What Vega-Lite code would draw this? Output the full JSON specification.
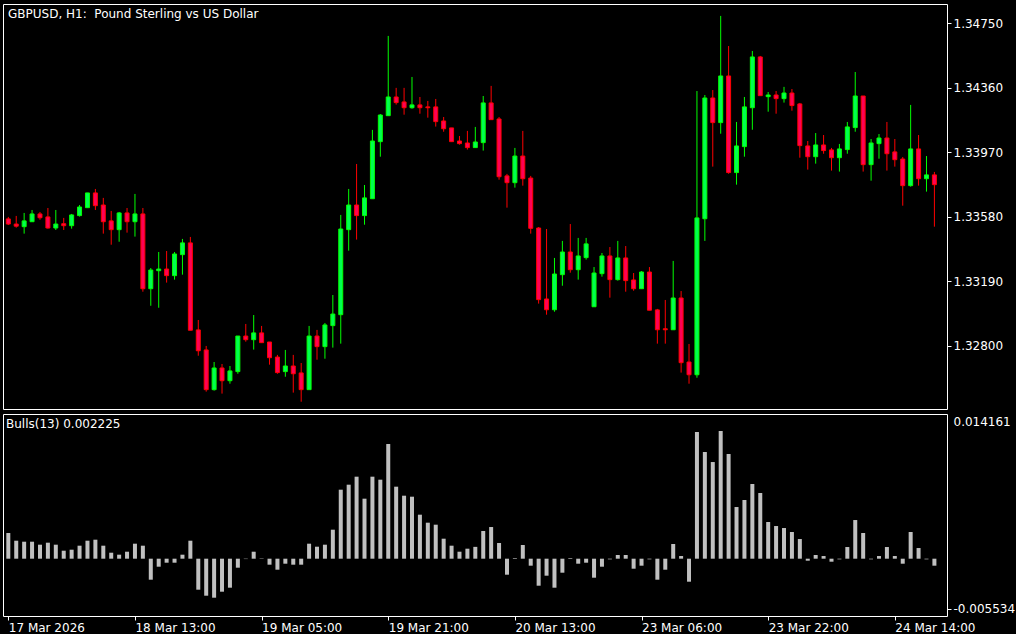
{
  "$schema": "https://vega.github.io/schema/vega-lite/v6.json",
  "background": "#000000",
  "padding": {"left": 2, "top": 3, "right": 0, "bottom": 0},
  "spacing": 3,
  "config": {
    "font": "DejaVu Sans",
    "view": {"stroke": "#FFFFFF", "strokeWidth": 1, "fill": "#000000"},
    "axis": {"grid": false, "domain": false, "labelColor": "#FFFFFF", "tickColor": "#FFFFFF", "labelFont": "DejaVu Sans", "labelFontSize": 12, "tickSize": 4, "title": null, "labelOverlap": false, "labelFlush": false}
  },
  "datasets": {
    "d": [
      {"i":0,"o":1.33568,"h":1.33580,"l":1.33531,"c":1.33537,"b":0.002847},
      {"i":1,"o":1.33537,"h":1.33586,"l":1.33515,"c":1.33524,"b":0.001996},
      {"i":2,"o":1.33521,"h":1.33604,"l":1.33479,"c":1.33556,"b":0.001885},
      {"i":3,"o":1.33551,"h":1.33622,"l":1.33551,"c":1.33598,"b":0.001885},
      {"i":4,"o":1.33598,"h":1.33610,"l":1.33563,"c":1.33575,"b":0.001553},
      {"i":5,"o":1.33580,"h":1.33634,"l":1.33509,"c":1.33513,"b":0.001775},
      {"i":6,"o":1.33513,"h":1.33622,"l":1.33501,"c":1.33537,"b":0.001553},
      {"i":7,"o":1.33539,"h":1.33574,"l":1.33501,"c":1.33527,"b":0.000887},
      {"i":8,"o":1.33527,"h":1.33598,"l":1.33509,"c":1.33592,"b":0.000998},
      {"i":9,"o":1.33588,"h":1.33652,"l":1.33582,"c":1.33640,"b":0.001442},
      {"i":10,"o":1.33636,"h":1.33725,"l":1.33636,"c":1.33725,"b":0.001996},
      {"i":11,"o":1.33725,"h":1.33749,"l":1.33622,"c":1.33648,"b":0.002107},
      {"i":12,"o":1.33652,"h":1.33695,"l":1.33479,"c":1.33551,"b":0.001442},
      {"i":13,"o":1.33556,"h":1.33616,"l":1.33412,"c":1.33503,"b":0.000665},
      {"i":14,"o":1.33503,"h":1.33610,"l":1.33430,"c":1.33604,"b":0.000444},
      {"i":15,"o":1.33604,"h":1.33634,"l":1.33485,"c":1.33551,"b":0.000776},
      {"i":16,"o":1.33551,"h":1.33719,"l":1.33461,"c":1.33598,"b":0.001664},
      {"i":17,"o":1.33598,"h":1.33634,"l":1.33128,"c":1.33146,"b":0.001442},
      {"i":18,"o":1.33146,"h":1.33271,"l":1.33043,"c":1.33259,"b":-0.002329},
      {"i":19,"o":1.33255,"h":1.33368,"l":1.33031,"c":1.33265,"b":-0.000887},
      {"i":20,"o":1.33265,"h":1.33374,"l":1.33183,"c":1.33225,"b":-0.000444},
      {"i":21,"o":1.33225,"h":1.33368,"l":1.33201,"c":1.33356,"b":-0.000444},
      {"i":22,"o":1.33352,"h":1.33447,"l":1.33231,"c":1.33423,"b":0.000444},
      {"i":23,"o":1.33423,"h":1.33459,"l":1.32895,"c":1.32895,"b":0.001996},
      {"i":24,"o":1.32897,"h":1.32957,"l":1.32741,"c":1.32771,"b":-0.003438},
      {"i":25,"o":1.32776,"h":1.32800,"l":1.32524,"c":1.32536,"b":-0.004104},
      {"i":26,"o":1.32536,"h":1.32703,"l":1.32530,"c":1.32667,"b":-0.004325},
      {"i":27,"o":1.32667,"h":1.32691,"l":1.32512,"c":1.32590,"b":-0.003660},
      {"i":28,"o":1.32590,"h":1.32679,"l":1.32572,"c":1.32649,"b":-0.003216},
      {"i":29,"o":1.32645,"h":1.32860,"l":1.32632,"c":1.32860,"b":-0.000998},
      {"i":30,"o":1.32860,"h":1.32933,"l":1.32826,"c":1.32838,"b":-0.000040},
      {"i":31,"o":1.32838,"h":1.32987,"l":1.32778,"c":1.32879,"b":0.000776},
      {"i":32,"o":1.32879,"h":1.32921,"l":1.32820,"c":1.32820,"b":0.000040},
      {"i":33,"o":1.32824,"h":1.32824,"l":1.32687,"c":1.32729,"b":-0.000665},
      {"i":34,"o":1.32733,"h":1.32746,"l":1.32632,"c":1.32639,"b":-0.001220},
      {"i":35,"o":1.32645,"h":1.32776,"l":1.32614,"c":1.32679,"b":-0.000555},
      {"i":36,"o":1.32679,"h":1.32746,"l":1.32518,"c":1.32632,"b":-0.000665},
      {"i":37,"o":1.32637,"h":1.32697,"l":1.32463,"c":1.32536,"b":-0.000665},
      {"i":38,"o":1.32536,"h":1.32921,"l":1.32536,"c":1.32860,"b":0.001664},
      {"i":39,"o":1.32860,"h":1.32897,"l":1.32717,"c":1.32796,"b":0.001331},
      {"i":40,"o":1.32796,"h":1.32939,"l":1.32723,"c":1.32927,"b":0.001553},
      {"i":41,"o":1.32923,"h":1.33108,"l":1.32790,"c":1.32993,"b":0.003216},
      {"i":42,"o":1.32989,"h":1.33592,"l":1.32814,"c":1.33507,"b":0.007653},
      {"i":43,"o":1.33503,"h":1.33749,"l":1.33376,"c":1.33652,"b":0.008207},
      {"i":44,"o":1.33652,"h":1.33900,"l":1.33443,"c":1.33588,"b":0.009095},
      {"i":45,"o":1.33588,"h":1.33773,"l":1.33533,"c":1.33695,"b":0.006655},
      {"i":46,"o":1.33690,"h":1.34106,"l":1.33690,"c":1.34039,"b":0.009095},
      {"i":47,"o":1.34035,"h":1.34202,"l":1.33944,"c":1.34196,"b":0.008762},
      {"i":48,"o":1.34192,"h":1.34674,"l":1.34192,"c":1.34305,"b":0.012718},
      {"i":49,"o":1.34305,"h":1.34360,"l":1.34259,"c":1.34271,"b":0.007986},
      {"i":50,"o":1.34275,"h":1.34360,"l":1.34198,"c":1.34240,"b":0.006987},
      {"i":51,"o":1.34240,"h":1.34426,"l":1.34234,"c":1.34257,"b":0.006876},
      {"i":52,"o":1.34257,"h":1.34305,"l":1.34204,"c":1.34240,"b":0.004880},
      {"i":53,"o":1.34245,"h":1.34281,"l":1.34180,"c":1.34240,"b":0.003993},
      {"i":54,"o":1.34245,"h":1.34293,"l":1.34126,"c":1.34156,"b":0.003771},
      {"i":55,"o":1.34160,"h":1.34184,"l":1.34095,"c":1.34113,"b":0.002218},
      {"i":56,"o":1.34118,"h":1.34118,"l":1.34035,"c":1.34035,"b":0.001442},
      {"i":57,"o":1.34039,"h":1.34069,"l":1.34017,"c":1.34023,"b":0.000776},
      {"i":58,"o":1.34027,"h":1.34100,"l":1.33987,"c":1.33999,"b":0.001109},
      {"i":59,"o":1.33999,"h":1.34124,"l":1.33999,"c":1.34033,"b":0.001312},
      {"i":60,"o":1.34029,"h":1.34311,"l":1.33981,"c":1.34269,"b":0.003069},
      {"i":61,"o":1.34269,"h":1.34372,"l":1.34168,"c":1.34168,"b":0.003512},
      {"i":62,"o":1.34172,"h":1.34184,"l":1.33805,"c":1.33823,"b":0.001738},
      {"i":63,"o":1.33828,"h":1.33840,"l":1.33636,"c":1.33787,"b":-0.001775},
      {"i":64,"o":1.33787,"h":1.33997,"l":1.33757,"c":1.33948,"b":0.000070},
      {"i":65,"o":1.33948,"h":1.34100,"l":1.33769,"c":1.33811,"b":0.001516},
      {"i":66,"o":1.33815,"h":1.33828,"l":1.33479,"c":1.33511,"b":-0.000776},
      {"i":67,"o":1.33513,"h":1.33519,"l":1.33056,"c":1.33080,"b":-0.002995},
      {"i":68,"o":1.33084,"h":1.33507,"l":1.32989,"c":1.33019,"b":-0.001885},
      {"i":69,"o":1.33019,"h":1.33332,"l":1.33007,"c":1.33235,"b":-0.003216},
      {"i":70,"o":1.33231,"h":1.33435,"l":1.33164,"c":1.33368,"b":-0.001553},
      {"i":71,"o":1.33368,"h":1.33537,"l":1.33243,"c":1.33261,"b":0.000070},
      {"i":72,"o":1.33261,"h":1.33453,"l":1.33201,"c":1.33344,"b":-0.000555},
      {"i":73,"o":1.33334,"h":1.33453,"l":1.33322,"c":1.33417,"b":-0.000444},
      {"i":74,"o":1.33037,"h":1.33277,"l":1.33037,"c":1.33241,"b":-0.002107},
      {"i":75,"o":1.33237,"h":1.33362,"l":1.33219,"c":1.33344,"b":-0.000887},
      {"i":76,"o":1.33344,"h":1.33398,"l":1.33092,"c":1.33201,"b":-0.000070},
      {"i":77,"o":1.33201,"h":1.33435,"l":1.33195,"c":1.33332,"b":0.000407},
      {"i":78,"o":1.33332,"h":1.33404,"l":1.33128,"c":1.33195,"b":0.000407},
      {"i":79,"o":1.33199,"h":1.33241,"l":1.33134,"c":1.33146,"b":-0.001109},
      {"i":80,"o":1.33146,"h":1.33253,"l":1.33146,"c":1.33247,"b":-0.000776},
      {"i":81,"o":1.33247,"h":1.33277,"l":1.33016,"c":1.33016,"b":-0.000070},
      {"i":82,"o":1.33018,"h":1.33024,"l":1.32814,"c":1.32898,"b":-0.002329},
      {"i":83,"o":1.32904,"h":1.33078,"l":1.32814,"c":1.32898,"b":-0.001220},
      {"i":84,"o":1.32898,"h":1.33314,"l":1.32898,"c":1.33090,"b":0.001627},
      {"i":85,"o":1.33090,"h":1.33132,"l":1.32639,"c":1.32699,"b":0.000296},
      {"i":86,"o":1.32703,"h":1.32812,"l":1.32572,"c":1.32626,"b":-0.002551},
      {"i":87,"o":1.32626,"h":1.34341,"l":1.32608,"c":1.33574,"b":0.014049},
      {"i":88,"o":1.33569,"h":1.34317,"l":1.33435,"c":1.34299,"b":0.011830},
      {"i":89,"o":1.34299,"h":1.34347,"l":1.33884,"c":1.34150,"b":0.010720},
      {"i":90,"o":1.34150,"h":1.34795,"l":1.34083,"c":1.34432,"b":0.014161},
      {"i":91,"o":1.34432,"h":1.34613,"l":1.33841,"c":1.33848,"b":0.011609},
      {"i":92,"o":1.33848,"h":1.34154,"l":1.33775,"c":1.34009,"b":0.005730},
      {"i":93,"o":1.34005,"h":1.34305,"l":1.33944,"c":1.34245,"b":0.006507},
      {"i":94,"o":1.34240,"h":1.34583,"l":1.34107,"c":1.34547,"b":0.008281},
      {"i":95,"o":1.34547,"h":1.34553,"l":1.34313,"c":1.34313,"b":0.007283},
      {"i":96,"o":1.34307,"h":1.34335,"l":1.34216,"c":1.34317,"b":0.004067},
      {"i":97,"o":1.34317,"h":1.34341,"l":1.34204,"c":1.34295,"b":0.003623},
      {"i":98,"o":1.34295,"h":1.34366,"l":1.34271,"c":1.34329,"b":0.003401},
      {"i":99,"o":1.34329,"h":1.34353,"l":1.34222,"c":1.34253,"b":0.002958},
      {"i":100,"o":1.34263,"h":1.34269,"l":1.33938,"c":1.34011,"b":0.002181},
      {"i":101,"o":1.34009,"h":1.34039,"l":1.33866,"c":1.33944,"b":-0.000222},
      {"i":102,"o":1.33944,"h":1.34087,"l":1.33902,"c":1.34015,"b":0.000407},
      {"i":103,"o":1.34015,"h":1.34075,"l":1.33962,"c":1.33981,"b":0.000296},
      {"i":104,"o":1.33985,"h":1.33997,"l":1.33860,"c":1.33938,"b":-0.000333},
      {"i":105,"o":1.33938,"h":1.34021,"l":1.33854,"c":1.33991,"b":-0.000070},
      {"i":106,"o":1.33987,"h":1.34154,"l":1.33962,"c":1.34124,"b":0.001294},
      {"i":107,"o":1.34120,"h":1.34456,"l":1.34095,"c":1.34311,"b":0.004288},
      {"i":108,"o":1.34311,"h":1.34311,"l":1.33854,"c":1.33896,"b":0.002847},
      {"i":109,"o":1.33896,"h":1.34051,"l":1.33799,"c":1.34027,"b":-0.000070},
      {"i":110,"o":1.34023,"h":1.34081,"l":1.33932,"c":1.34057,"b":0.000296},
      {"i":111,"o":1.34057,"h":1.34154,"l":1.33860,"c":1.33962,"b":0.001294},
      {"i":112,"o":1.33973,"h":1.34051,"l":1.33884,"c":1.33926,"b":0.000296},
      {"i":113,"o":1.33930,"h":1.33942,"l":1.33648,"c":1.33769,"b":-0.000555},
      {"i":114,"o":1.33769,"h":1.34257,"l":1.33763,"c":1.33991,"b":0.002958},
      {"i":115,"o":1.33991,"h":1.34075,"l":1.33769,"c":1.33811,"b":0.001183},
      {"i":116,"o":1.33811,"h":1.33948,"l":1.33733,"c":1.33834,"b":-0.000070},
      {"i":117,"o":1.33834,"h":1.33852,"l":1.33521,"c":1.33775,"b":-0.000776}
    ]
  },
  "resolve": {"scale": {"x": "independent", "y": "independent"}},
  "vconcat": [
    {
      "width": 944,
      "height": 405,
      "title": {"text": "GBPUSD, H1:\u00a0 Pound Sterling vs US Dollar", "anchor": "start", "frame": "group", "orient": "top", "offset": -17, "dx": 5, "color": "#FFFFFF", "font": "DejaVu Sans", "fontSize": 12, "fontWeight": "normal"},
      "data": {"name": "d"},
      "encoding": {
        "x": {"field": "i", "type": "quantitative", "scale": {"domain": [-0.04, 117.96], "nice": false, "zero": false}, "axis": null}
      },
      "layer": [
        {
          "mark": {"type": "rule", "strokeWidth": 1, "clip": true},
          "encoding": {
            "y": {"field": "l", "type": "quantitative", "scale": {"domain": [1.32419, 1.34867], "nice": false, "zero": false},
                  "axis": {"orient": "right", "values": [1.3475, 1.3436, 1.3397, 1.3358, 1.3319, 1.328], "format": ".5f", "labelPadding": 2}},
            "y2": {"field": "h"},
            "color": {"condition": {"test": "datum.c >= datum.o", "value": "#00FF00"}, "value": "#FF0000"}
          }
        },
        {
          "mark": {"type": "bar", "width": 4, "strokeWidth": 1, "clip": true},
          "encoding": {
            "y": {"field": "o", "type": "quantitative", "scale": {"domain": [1.32419, 1.34867], "nice": false, "zero": false}},
            "y2": {"field": "c"},
            "fill": {"condition": {"test": "datum.c >= datum.o", "value": "#00FF50"}, "value": "#FF0055"},
            "stroke": {"condition": {"test": "datum.c >= datum.o", "value": "#00FF00"}, "value": "#FF0000"}
          }
        }
      ]
    },
    {
      "width": 944,
      "height": 202,
      "title": {"text": "Bulls(13) 0.002225", "anchor": "start", "frame": "group", "orient": "top", "offset": -17, "dx": 3, "color": "#FFFFFF", "font": "DejaVu Sans", "fontSize": 12, "fontWeight": "normal"},
      "data": {"name": "d"},
      "mark": {"type": "bar", "width": 4, "fill": "#C0C0C0", "clip": true},
      "encoding": {
        "x": {"field": "i", "type": "quantitative", "scale": {"domain": [-0.04, 117.96], "nice": false, "zero": false},
              "axis": {"values": [0, 16, 32, 48, 64, 80, 96, 112],
                       "labelExpr": "['17 Mar 2026','18 Mar 13:00','19 Mar 05:00','19 Mar 21:00','20 Mar 13:00','23 Mar 06:00','23 Mar 22:00','24 Mar 14:00'][round(datum.value/16)]",
                       "labelAlign": "left", "labelBaseline": "top", "labelPadding": 2, "tickSize": 4}},
        "y": {"field": "b", "type": "quantitative", "scale": {"domain": [-0.006355, 0.016047], "nice": false, "zero": false},
              "axis": {"orient": "right", "values": [0.014161, -0.005534],
                       "labelExpr": "datum.value > 0 ? '0.014161' : '-0.005534'",
                       "tickColor": {"condition": {"test": "datum.value > 0", "value": "transparent"}, "value": "#FFFFFF"},
                       "labelOffset": {"condition": {"test": "datum.value > 0", "value": -10}, "value": 0},
                       "labelPadding": 2}}
      }
    }
  ]
}
